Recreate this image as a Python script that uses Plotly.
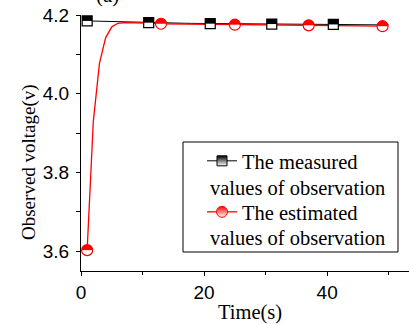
import plotly.graph_objects as go

# ---------------- data ----------------
time_measured = list(range(1, 51))
measured = [4.1850, 4.1845, 4.1840, 4.1836, 4.1832, 4.1828, 4.1824, 4.1820, 4.1816, 4.1811,
            4.1805, 4.1802, 4.1800, 4.1797, 4.1795, 4.1792, 4.1790, 4.1787, 4.1785, 4.1782,
            4.1780, 4.1779, 4.1778, 4.1777, 4.1776, 4.1775, 4.1774, 4.1773, 4.1772, 4.1771,
            4.1770, 4.1769, 4.1768, 4.1767, 4.1766, 4.1765, 4.1764, 4.1763, 4.1762, 4.1761,
            4.1760, 4.1759, 4.1758, 4.1757, 4.1756, 4.1755, 4.1753, 4.1751, 4.1749, 4.1747]

time_estimated = list(range(1, 50))
estimated = [3.603, 3.930, 4.077, 4.142, 4.170, 4.179, 4.1805, 4.1805, 4.1803, 4.1800,
             4.1795, 4.1790, 4.1778, 4.1776, 4.1774, 4.1772, 4.1770, 4.1768, 4.1766, 4.1764,
             4.1762, 4.1760, 4.1758, 4.1756, 4.1754, 4.1753, 4.1751, 4.1750, 4.1749, 4.1747,
             4.1746, 4.1745, 4.1743, 4.1742, 4.1741, 4.1739, 4.1738, 4.1736, 4.1734, 4.1732,
             4.1731, 4.1729, 4.1727, 4.1725, 4.1723, 4.1721, 4.1720, 4.1718, 4.1716]

measured_marker_step = 10
estimated_marker_step = 12

x_ticks = [0, 20, 40]
y_ticks = [3.6, 3.8, 4.0, 4.2]
y_tick_labels = ["3.6", "3.8", "4.0", "4.2"]

name_measured = ["The measured", "values of observation"]
name_estimated = ["The estimated", "values of observation"]
x_title = "Time(s)"
y_title = "Observed voltage(v)"
panel_label = "(a)"

# ---------------- layout constants ----------------
W, H = 409, 324
M = dict(l=81, r=0, t=15, b=53)
X_RANGE = [0, 53.3]
Y_RANGE = [3.55, 4.2]
plot_w = W - M["l"] - M["r"]
plot_h = H - M["t"] - M["b"]
ppu = plot_h / (Y_RANGE[1] - Y_RANGE[0])   # pixels per y unit


def px_x(p):   # pixel column -> paper x
    return (p - M["l"]) / plot_w


def px_y(p):   # pixel row -> paper y
    return 1 - (p - M["t"]) / plot_h


SERIF = "Liberation Serif"
SANS = "Liberation Sans"
RED = "#ff0000"
BLACK = "#000000"
LEG_FS = 20.5


def half_filled(x, y, symbol, color, size):
    """Marker whose top half is filled with colour and bottom half is white."""
    off = (size / 4.0) / ppu
    common = dict(mode="markers", showlegend=False, hoverinfo="skip", cliponaxis=False)
    return [
        go.Scatter(x=x, y=y, marker=dict(symbol=symbol, size=size, color=color,
                                         line=dict(width=0)), **common),
        go.Scatter(x=x, y=[v - off for v in y],
                   marker=dict(symbol="line-ew", size=size / 1.4,
                               line=dict(color="white", width=size / 2.0)), **common),
        go.Scatter(x=x, y=y, marker=dict(symbol=symbol + "-open", size=size, color=color,
                                         line=dict(width=1.2)), **common),
    ]


fig = go.Figure()

# lines
fig.add_trace(go.Scatter(x=time_measured, y=measured, mode="lines",
                         line=dict(color=BLACK, width=1), showlegend=False,
                         hoverinfo="skip", cliponaxis=False))
fig.add_trace(go.Scatter(x=time_estimated, y=estimated, mode="lines",
                         line=dict(color=RED, width=1.3), showlegend=False,
                         hoverinfo="skip", cliponaxis=False))

# markers
for tr in half_filled(time_measured[::measured_marker_step], measured[::measured_marker_step],
                      "square", BLACK, 10):
    fig.add_trace(tr)
for tr in half_filled(time_estimated[::estimated_marker_step], estimated[::estimated_marker_step],
                      "circle", RED, 11):
    fig.add_trace(tr)

# legend-only entries
fig.add_trace(go.Scatter(x=[None], y=[None], mode="lines+markers", name=name_measured[0],
                         legendgroup="g1",
                         line=dict(color=BLACK, width=1),
                         marker=dict(symbol="square", size=10, color=BLACK,
                                     line=dict(color=BLACK, width=1),
                                     gradient=dict(type="vertical", color="white"))))
fig.add_trace(go.Scatter(x=[None], y=[None], mode="lines+markers", name=name_estimated[0],
                         legendgroup="g2",
                         line=dict(color=RED, width=1.3),
                         marker=dict(symbol="circle", size=11, color=RED,
                                     line=dict(color=RED, width=1),
                                     gradient=dict(type="vertical", color="white"))))

# legend frame
fig.add_shape(type="rect", xref="paper", yref="paper",
              x0=px_x(183), x1=px_x(398), y0=px_y(252), y1=px_y(142),
              line=dict(color=BLACK, width=1), fillcolor="white", layer="above")

# second lines of the legend labels
fig.add_annotation(x=px_x(208), y=px_y(188), xref="paper", yref="paper",
                   text=name_measured[1], showarrow=False, xanchor="left", yanchor="middle",
                   font=dict(family=SERIF, size=LEG_FS, color=BLACK))
fig.add_annotation(x=px_x(208), y=px_y(238), xref="paper", yref="paper",
                   text=name_estimated[1], showarrow=False, xanchor="left", yanchor="middle",
                   font=dict(family=SERIF, size=LEG_FS, color=BLACK))

# axis titles
fig.add_annotation(x=px_x(29), y=px_y(162), xref="paper", yref="paper", text=y_title,
                   textangle=-90, showarrow=False, xanchor="center", yanchor="middle",
                   font=dict(family=SERIF, size=19, color=BLACK))
fig.add_annotation(x=px_x(250), y=px_y(312), xref="paper", yref="paper", text=x_title,
                   showarrow=False, xanchor="center", yanchor="middle",
                   font=dict(family=SERIF, size=20.5, color=BLACK))

# partially visible panel label (cut off by the top edge, as in the source)
fig.add_annotation(x=px_x(107), y=px_y(15 - 6.5), xref="paper", yref="paper", text=panel_label,
                   showarrow=False, xanchor="center", yanchor="bottom",
                   font=dict(family=SERIF, size=21, color=BLACK))

fig.update_layout(
    width=W, height=H, margin=M,
    paper_bgcolor="white", plot_bgcolor="white",
    showlegend=True,
    legend=dict(x=px_x(202), y=px_y(141), xanchor="left", yanchor="top",
                bgcolor="rgba(0,0,0,0)", borderwidth=0, valign="middle",
                tracegroupgap=21.35,
                font=dict(family=SERIF, size=LEG_FS, color=BLACK)),
    xaxis=dict(range=X_RANGE, tickvals=x_ticks, ticks="outside", ticklen=4, tickwidth=1,
               tickcolor=BLACK, showline=True, linecolor=BLACK, linewidth=1,
               showgrid=False, zeroline=False,
               minor=dict(dtick=10, tick0=0, ticks="outside", ticklen=3, tickcolor=BLACK, showgrid=False),
               tickfont=dict(family=SANS, size=19, color=BLACK),
               automargin=False),
    yaxis=dict(range=Y_RANGE, tickvals=y_ticks, ticktext=y_tick_labels, ticks="outside",
               ticklen=4, tickwidth=1, tickcolor=BLACK, showline=True, linecolor=BLACK,
               linewidth=1, showgrid=False, zeroline=False, ticklabelstandoff=3,
               minor=dict(dtick=0.1, tick0=3.6, ticks="outside", ticklen=4, tickcolor=BLACK, showgrid=False),
               tickfont=dict(family=SANS, size=19, color=BLACK),
               automargin=False),
    hovermode=False,
)

fig.write_html("out.html", config={"displayModeBar": False, "staticPlot": True},
               post_script="document.body.style.margin='0';document.body.style.overflow='hidden';")
